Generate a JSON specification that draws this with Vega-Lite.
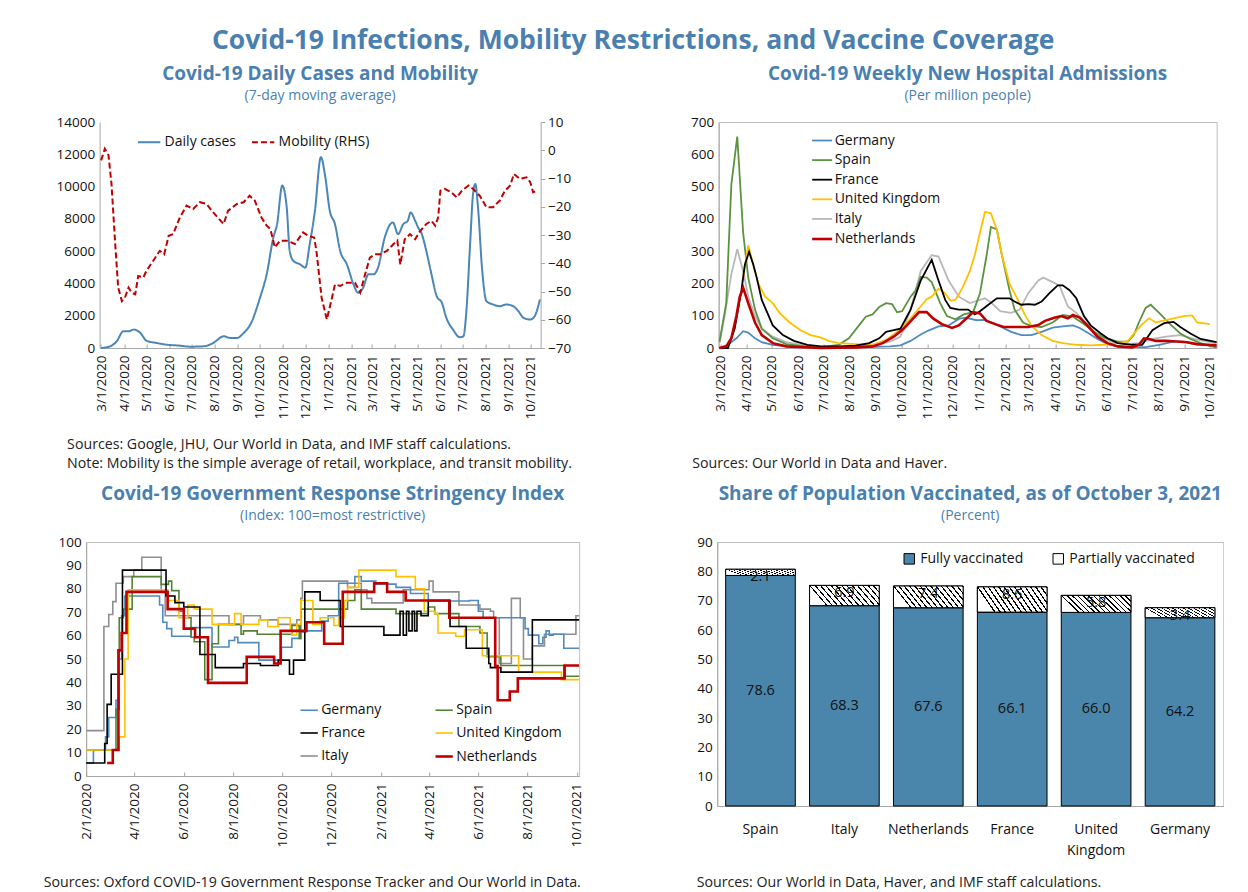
{
"$schema": "https://vega.github.io/schema/vega-lite/v6.json",
"background": "white",
"padding": {"left": 42, "top": 27, "right": 0, "bottom": 0},
"title": {"text": "Covid-19 Infections, Mobility Restrictions, and Vaccine Coverage", "fontSize": 26.5, "offset": 10, "anchor": "middle"},
"config": {
  "font": "Open Sans",
  "view": {"stroke": "#bfbfbf", "strokeWidth": 1},
  "axis": {"labelFont": "Open Sans", "labelFontSize": 13.5, "labelColor": "#111111", "domainColor": "#a6a6a6", "tickColor": "#a6a6a6", "grid": false, "titleFont": "Open Sans", "titleFontWeight": "normal", "titleFontSize": 14.2, "titleColor": "#222222", "labelFlush": false, "labelOverlap": false},
  "legend": {"labelFont": "Open Sans", "labelFontSize": 14, "labelColor": "#111111"},
  "title": {"font": "Open Sans", "fontWeight": "bold", "color": "#4a7fb0", "fontSize": 19, "subtitleFont": "Open Sans", "subtitleFontSize": 14, "subtitleColor": "#4a7fb0", "subtitlePadding": 5, "anchor": "middle", "offset": 12.5}
},
"resolve": {"scale": {"color": "independent", "strokeDash": "independent", "strokeWidth": "independent", "opacity": "independent"}, "legend": {"color": "independent", "strokeDash": "independent", "strokeWidth": "independent"}},
"datasets": {
"tl": [
{"series":"Daily cases","date":"2020-03-01","value":0},
{"series":"Daily cases","date":"2020-03-13","value":104},
{"series":"Daily cases","date":"2020-03-22","value":415},
{"series":"Daily cases","date":"2020-03-31","value":1037},
{"series":"Daily cases","date":"2020-04-07","value":1037},
{"series":"Daily cases","date":"2020-04-14","value":1140},
{"series":"Daily cases","date":"2020-04-23","value":933},
{"series":"Daily cases","date":"2020-05-01","value":456},
{"series":"Daily cases","date":"2020-05-15","value":311},
{"series":"Daily cases","date":"2020-05-28","value":207},
{"series":"Daily cases","date":"2020-06-15","value":145},
{"series":"Daily cases","date":"2020-06-29","value":83},
{"series":"Daily cases","date":"2020-07-17","value":104},
{"series":"Daily cases","date":"2020-07-30","value":311},
{"series":"Daily cases","date":"2020-08-13","value":726},
{"series":"Daily cases","date":"2020-08-22","value":622},
{"series":"Daily cases","date":"2020-08-31","value":622},
{"series":"Daily cases","date":"2020-09-09","value":933},
{"series":"Daily cases","date":"2020-09-18","value":1452},
{"series":"Daily cases","date":"2020-10-01","value":3111},
{"series":"Daily cases","date":"2020-10-10","value":4563},
{"series":"Daily cases","date":"2020-10-19","value":6845},
{"series":"Daily cases","date":"2020-10-24","value":7674},
{"series":"Daily cases","date":"2020-10-31","value":10060},
{"series":"Daily cases","date":"2020-11-06","value":8711},
{"series":"Daily cases","date":"2020-11-10","value":6015},
{"series":"Daily cases","date":"2020-11-15","value":5393},
{"series":"Daily cases","date":"2020-11-24","value":5185},
{"series":"Daily cases","date":"2020-12-01","value":4978},
{"series":"Daily cases","date":"2020-12-07","value":6430},
{"series":"Daily cases","date":"2020-12-14","value":8504},
{"series":"Daily cases","date":"2020-12-22","value":11822},
{"series":"Daily cases","date":"2020-12-28","value":10578},
{"series":"Daily cases","date":"2021-01-03","value":8504},
{"series":"Daily cases","date":"2021-01-10","value":7674},
{"series":"Daily cases","date":"2021-01-17","value":6015},
{"series":"Daily cases","date":"2021-01-26","value":5185},
{"series":"Daily cases","date":"2021-02-04","value":3941},
{"series":"Daily cases","date":"2021-02-10","value":3422},
{"series":"Daily cases","date":"2021-02-17","value":3733},
{"series":"Daily cases","date":"2021-02-24","value":4563},
{"series":"Daily cases","date":"2021-03-03","value":4563},
{"series":"Daily cases","date":"2021-03-09","value":4978},
{"series":"Daily cases","date":"2021-03-18","value":6845},
{"series":"Daily cases","date":"2021-03-29","value":7778},
{"series":"Daily cases","date":"2021-04-05","value":7052},
{"series":"Daily cases","date":"2021-04-12","value":7674},
{"series":"Daily cases","date":"2021-04-18","value":7882},
{"series":"Daily cases","date":"2021-04-22","value":8400},
{"series":"Daily cases","date":"2021-04-28","value":7882},
{"series":"Daily cases","date":"2021-05-02","value":7467},
{"series":"Daily cases","date":"2021-05-07","value":7052},
{"series":"Daily cases","date":"2021-05-13","value":6015},
{"series":"Daily cases","date":"2021-05-20","value":4563},
{"series":"Daily cases","date":"2021-05-27","value":3215},
{"series":"Daily cases","date":"2021-06-03","value":2800},
{"series":"Daily cases","date":"2021-06-09","value":1867},
{"series":"Daily cases","date":"2021-06-18","value":1141},
{"series":"Daily cases","date":"2021-06-27","value":667},
{"series":"Daily cases","date":"2021-07-02","value":726},
{"series":"Daily cases","date":"2021-07-06","value":2282},
{"series":"Daily cases","date":"2021-07-11","value":6430},
{"series":"Daily cases","date":"2021-07-15","value":9541},
{"series":"Daily cases","date":"2021-07-18","value":10160},
{"series":"Daily cases","date":"2021-07-22","value":8504},
{"series":"Daily cases","date":"2021-07-27","value":4978},
{"series":"Daily cases","date":"2021-08-02","value":2904},
{"series":"Daily cases","date":"2021-08-11","value":2696},
{"series":"Daily cases","date":"2021-08-20","value":2593},
{"series":"Daily cases","date":"2021-08-29","value":2696},
{"series":"Daily cases","date":"2021-09-07","value":2593},
{"series":"Daily cases","date":"2021-09-14","value":2282},
{"series":"Daily cases","date":"2021-09-21","value":1867},
{"series":"Daily cases","date":"2021-09-30","value":1763},
{"series":"Daily cases","date":"2021-10-06","value":1970},
{"series":"Daily cases","date":"2021-10-13","value":3007},
{"series":"Mobility (RHS)","date":"2020-03-01","value":-3.6},
{"series":"Mobility (RHS)","date":"2020-03-06","value":0.5},
{"series":"Mobility (RHS)","date":"2020-03-11","value":-1.8},
{"series":"Mobility (RHS)","date":"2020-03-15","value":-11.9},
{"series":"Mobility (RHS)","date":"2020-03-20","value":-33.2},
{"series":"Mobility (RHS)","date":"2020-03-24","value":-48.6},
{"series":"Mobility (RHS)","date":"2020-03-29","value":-53.4},
{"series":"Mobility (RHS)","date":"2020-04-02","value":-52.2},
{"series":"Mobility (RHS)","date":"2020-04-07","value":-48.6},
{"series":"Mobility (RHS)","date":"2020-04-11","value":-50.4},
{"series":"Mobility (RHS)","date":"2020-04-16","value":-51},
{"series":"Mobility (RHS)","date":"2020-04-20","value":-44.5},
{"series":"Mobility (RHS)","date":"2020-04-27","value":-45},
{"series":"Mobility (RHS)","date":"2020-05-01","value":-42.7},
{"series":"Mobility (RHS)","date":"2020-05-10","value":-39.2},
{"series":"Mobility (RHS)","date":"2020-05-19","value":-35.6},
{"series":"Mobility (RHS)","date":"2020-05-25","value":-36.8},
{"series":"Mobility (RHS)","date":"2020-05-31","value":-30.3},
{"series":"Mobility (RHS)","date":"2020-06-06","value":-29.7},
{"series":"Mobility (RHS)","date":"2020-06-15","value":-23.8},
{"series":"Mobility (RHS)","date":"2020-06-24","value":-19.6},
{"series":"Mobility (RHS)","date":"2020-07-03","value":-20.8},
{"series":"Mobility (RHS)","date":"2020-07-12","value":-18.4},
{"series":"Mobility (RHS)","date":"2020-07-21","value":-19},
{"series":"Mobility (RHS)","date":"2020-07-30","value":-22},
{"series":"Mobility (RHS)","date":"2020-08-13","value":-26.1},
{"series":"Mobility (RHS)","date":"2020-08-19","value":-21.4},
{"series":"Mobility (RHS)","date":"2020-08-31","value":-19},
{"series":"Mobility (RHS)","date":"2020-09-09","value":-18.4},
{"series":"Mobility (RHS)","date":"2020-09-17","value":-16.1},
{"series":"Mobility (RHS)","date":"2020-09-24","value":-17.8},
{"series":"Mobility (RHS)","date":"2020-10-03","value":-23.8},
{"series":"Mobility (RHS)","date":"2020-10-10","value":-26.7},
{"series":"Mobility (RHS)","date":"2020-10-15","value":-27.9},
{"series":"Mobility (RHS)","date":"2020-10-21","value":-34.4},
{"series":"Mobility (RHS)","date":"2020-10-28","value":-32},
{"series":"Mobility (RHS)","date":"2020-11-06","value":-32},
{"series":"Mobility (RHS)","date":"2020-11-17","value":-33.2},
{"series":"Mobility (RHS)","date":"2020-11-28","value":-29.1},
{"series":"Mobility (RHS)","date":"2020-12-05","value":-30.3},
{"series":"Mobility (RHS)","date":"2020-12-13","value":-30.9},
{"series":"Mobility (RHS)","date":"2020-12-16","value":-35.6},
{"series":"Mobility (RHS)","date":"2020-12-23","value":-52.2},
{"series":"Mobility (RHS)","date":"2020-12-30","value":-59.9},
{"series":"Mobility (RHS)","date":"2021-01-06","value":-52.2},
{"series":"Mobility (RHS)","date":"2021-01-10","value":-47.5},
{"series":"Mobility (RHS)","date":"2021-01-17","value":-48},
{"series":"Mobility (RHS)","date":"2021-01-26","value":-46.9},
{"series":"Mobility (RHS)","date":"2021-02-06","value":-46.9},
{"series":"Mobility (RHS)","date":"2021-02-13","value":-50.4},
{"series":"Mobility (RHS)","date":"2021-02-19","value":-44.5},
{"series":"Mobility (RHS)","date":"2021-02-26","value":-38},
{"series":"Mobility (RHS)","date":"2021-03-05","value":-36.8},
{"series":"Mobility (RHS)","date":"2021-03-12","value":-36.8},
{"series":"Mobility (RHS)","date":"2021-03-21","value":-35.6},
{"series":"Mobility (RHS)","date":"2021-03-30","value":-33.2},
{"series":"Mobility (RHS)","date":"2021-04-04","value":-32},
{"series":"Mobility (RHS)","date":"2021-04-08","value":-40.4},
{"series":"Mobility (RHS)","date":"2021-04-14","value":-31.5},
{"series":"Mobility (RHS)","date":"2021-04-21","value":-29.7},
{"series":"Mobility (RHS)","date":"2021-04-28","value":-31.5},
{"series":"Mobility (RHS)","date":"2021-05-05","value":-28.5},
{"series":"Mobility (RHS)","date":"2021-05-13","value":-26.1},
{"series":"Mobility (RHS)","date":"2021-05-20","value":-25},
{"series":"Mobility (RHS)","date":"2021-05-25","value":-26.7},
{"series":"Mobility (RHS)","date":"2021-05-29","value":-23.8},
{"series":"Mobility (RHS)","date":"2021-06-01","value":-14.3},
{"series":"Mobility (RHS)","date":"2021-06-07","value":-13.7},
{"series":"Mobility (RHS)","date":"2021-06-16","value":-14.9},
{"series":"Mobility (RHS)","date":"2021-06-23","value":-16.7},
{"series":"Mobility (RHS)","date":"2021-06-30","value":-14.3},
{"series":"Mobility (RHS)","date":"2021-07-09","value":-12.5},
{"series":"Mobility (RHS)","date":"2021-07-15","value":-13.7},
{"series":"Mobility (RHS)","date":"2021-07-24","value":-16.1},
{"series":"Mobility (RHS)","date":"2021-08-02","value":-20.2},
{"series":"Mobility (RHS)","date":"2021-08-11","value":-20.2},
{"series":"Mobility (RHS)","date":"2021-08-20","value":-17.8},
{"series":"Mobility (RHS)","date":"2021-08-27","value":-14.3},
{"series":"Mobility (RHS)","date":"2021-09-03","value":-12.5},
{"series":"Mobility (RHS)","date":"2021-09-08","value":-8.4},
{"series":"Mobility (RHS)","date":"2021-09-16","value":-10.1},
{"series":"Mobility (RHS)","date":"2021-09-25","value":-9.6},
{"series":"Mobility (RHS)","date":"2021-09-30","value":-11.3},
{"series":"Mobility (RHS)","date":"2021-10-04","value":-14.9},
{"series":"Mobility (RHS)","date":"2021-10-09","value":-14.3}
],
"hosp": [
{"country":"Italy","date":"2020-02-29","value":15},
{"country":"Italy","date":"2020-03-06","value":99},
{"country":"Italy","date":"2020-03-14","value":228},
{"country":"Italy","date":"2020-03-21","value":306},
{"country":"Italy","date":"2020-03-28","value":238},
{"country":"Italy","date":"2020-04-03","value":159},
{"country":"Italy","date":"2020-04-11","value":99},
{"country":"Italy","date":"2020-04-19","value":60},
{"country":"Italy","date":"2020-05-02","value":35},
{"country":"Italy","date":"2020-05-18","value":18},
{"country":"Italy","date":"2020-06-08","value":8},
{"country":"Italy","date":"2020-06-28","value":3},
{"country":"Italy","date":"2020-08-08","value":3},
{"country":"Italy","date":"2020-09-01","value":12},
{"country":"Italy","date":"2020-09-18","value":20},
{"country":"Italy","date":"2020-09-30","value":35},
{"country":"Italy","date":"2020-10-12","value":119},
{"country":"Italy","date":"2020-10-24","value":238},
{"country":"Italy","date":"2020-11-06","value":288},
{"country":"Italy","date":"2020-11-14","value":283},
{"country":"Italy","date":"2020-11-26","value":209},
{"country":"Italy","date":"2020-12-08","value":159},
{"country":"Italy","date":"2020-12-21","value":139},
{"country":"Italy","date":"2021-01-02","value":149},
{"country":"Italy","date":"2021-01-08","value":154},
{"country":"Italy","date":"2021-01-16","value":139},
{"country":"Italy","date":"2021-01-26","value":114},
{"country":"Italy","date":"2021-02-08","value":109},
{"country":"Italy","date":"2021-02-18","value":119},
{"country":"Italy","date":"2021-02-28","value":169},
{"country":"Italy","date":"2021-03-12","value":209},
{"country":"Italy","date":"2021-03-18","value":218},
{"country":"Italy","date":"2021-03-29","value":204},
{"country":"Italy","date":"2021-04-06","value":194},
{"country":"Italy","date":"2021-04-16","value":129},
{"country":"Italy","date":"2021-04-26","value":109},
{"country":"Italy","date":"2021-05-09","value":74},
{"country":"Italy","date":"2021-05-21","value":40},
{"country":"Italy","date":"2021-06-06","value":20},
{"country":"Italy","date":"2021-06-22","value":12},
{"country":"Italy","date":"2021-07-09","value":15},
{"country":"Italy","date":"2021-07-25","value":28},
{"country":"Italy","date":"2021-08-10","value":35},
{"country":"Italy","date":"2021-08-27","value":40},
{"country":"Italy","date":"2021-09-12","value":28},
{"country":"Italy","date":"2021-09-28","value":20},
{"country":"Italy","date":"2021-10-09","value":15},
{"country":"Germany","date":"2020-02-29","value":0},
{"country":"Germany","date":"2020-03-10","value":10},
{"country":"Germany","date":"2020-03-20","value":30},
{"country":"Germany","date":"2020-03-28","value":52},
{"country":"Germany","date":"2020-04-03","value":48},
{"country":"Germany","date":"2020-04-11","value":30},
{"country":"Germany","date":"2020-04-19","value":18},
{"country":"Germany","date":"2020-05-02","value":10},
{"country":"Germany","date":"2020-05-18","value":5},
{"country":"Germany","date":"2020-06-28","value":2},
{"country":"Germany","date":"2020-08-08","value":2},
{"country":"Germany","date":"2020-09-18","value":5},
{"country":"Germany","date":"2020-09-30","value":8},
{"country":"Germany","date":"2020-10-12","value":22},
{"country":"Germany","date":"2020-10-24","value":42},
{"country":"Germany","date":"2020-11-02","value":54},
{"country":"Germany","date":"2020-11-14","value":67},
{"country":"Germany","date":"2020-11-26","value":70},
{"country":"Germany","date":"2020-12-08","value":90},
{"country":"Germany","date":"2020-12-16","value":94},
{"country":"Germany","date":"2020-12-29","value":86},
{"country":"Germany","date":"2021-01-06","value":87},
{"country":"Germany","date":"2021-01-16","value":79},
{"country":"Germany","date":"2021-01-26","value":67},
{"country":"Germany","date":"2021-02-08","value":50},
{"country":"Germany","date":"2021-02-20","value":40},
{"country":"Germany","date":"2021-03-04","value":40},
{"country":"Germany","date":"2021-03-16","value":50},
{"country":"Germany","date":"2021-03-29","value":63},
{"country":"Germany","date":"2021-04-10","value":67},
{"country":"Germany","date":"2021-04-22","value":70},
{"country":"Germany","date":"2021-04-30","value":62},
{"country":"Germany","date":"2021-05-11","value":45},
{"country":"Germany","date":"2021-05-21","value":28},
{"country":"Germany","date":"2021-06-02","value":12},
{"country":"Germany","date":"2021-06-14","value":5},
{"country":"Germany","date":"2021-07-01","value":3},
{"country":"Germany","date":"2021-07-17","value":3},
{"country":"Germany","date":"2021-08-02","value":10},
{"country":"Germany","date":"2021-08-19","value":20},
{"country":"Germany","date":"2021-08-31","value":20},
{"country":"Germany","date":"2021-09-12","value":12},
{"country":"Germany","date":"2021-09-28","value":8},
{"country":"Germany","date":"2021-10-09","value":5},
{"country":"Spain","date":"2020-02-29","value":20},
{"country":"Spain","date":"2020-03-08","value":139},
{"country":"Spain","date":"2020-03-14","value":506},
{"country":"Spain","date":"2020-03-21","value":655},
{"country":"Spain","date":"2020-03-28","value":357},
{"country":"Spain","date":"2020-04-03","value":218},
{"country":"Spain","date":"2020-04-11","value":119},
{"country":"Spain","date":"2020-04-19","value":60},
{"country":"Spain","date":"2020-05-02","value":30},
{"country":"Spain","date":"2020-05-18","value":12},
{"country":"Spain","date":"2020-06-08","value":5},
{"country":"Spain","date":"2020-06-28","value":3},
{"country":"Spain","date":"2020-07-19","value":10},
{"country":"Spain","date":"2020-07-31","value":30},
{"country":"Spain","date":"2020-08-12","value":70},
{"country":"Spain","date":"2020-08-20","value":97},
{"country":"Spain","date":"2020-08-28","value":104},
{"country":"Spain","date":"2020-09-05","value":127},
{"country":"Spain","date":"2020-09-13","value":139},
{"country":"Spain","date":"2020-09-20","value":136},
{"country":"Spain","date":"2020-09-26","value":111},
{"country":"Spain","date":"2020-10-02","value":114},
{"country":"Spain","date":"2020-10-12","value":159},
{"country":"Spain","date":"2020-10-18","value":179},
{"country":"Spain","date":"2020-10-24","value":220},
{"country":"Spain","date":"2020-10-31","value":218},
{"country":"Spain","date":"2020-11-06","value":204},
{"country":"Spain","date":"2020-11-16","value":139},
{"country":"Spain","date":"2020-11-24","value":99},
{"country":"Spain","date":"2020-12-04","value":89},
{"country":"Spain","date":"2020-12-14","value":104},
{"country":"Spain","date":"2020-12-25","value":111},
{"country":"Spain","date":"2021-01-02","value":169},
{"country":"Spain","date":"2021-01-10","value":288},
{"country":"Spain","date":"2021-01-15","value":375},
{"country":"Spain","date":"2021-01-22","value":367},
{"country":"Spain","date":"2021-01-28","value":288},
{"country":"Spain","date":"2021-02-06","value":179},
{"country":"Spain","date":"2021-02-12","value":119},
{"country":"Spain","date":"2021-02-22","value":79},
{"country":"Spain","date":"2021-03-04","value":68},
{"country":"Spain","date":"2021-03-16","value":65},
{"country":"Spain","date":"2021-03-29","value":79},
{"country":"Spain","date":"2021-04-10","value":102},
{"country":"Spain","date":"2021-04-22","value":97},
{"country":"Spain","date":"2021-05-05","value":74},
{"country":"Spain","date":"2021-05-17","value":50},
{"country":"Spain","date":"2021-05-29","value":32},
{"country":"Spain","date":"2021-06-14","value":20},
{"country":"Spain","date":"2021-06-26","value":20},
{"country":"Spain","date":"2021-07-03","value":40},
{"country":"Spain","date":"2021-07-09","value":79},
{"country":"Spain","date":"2021-07-17","value":124},
{"country":"Spain","date":"2021-07-23","value":134},
{"country":"Spain","date":"2021-08-02","value":109},
{"country":"Spain","date":"2021-08-15","value":74},
{"country":"Spain","date":"2021-08-27","value":45},
{"country":"Spain","date":"2021-09-08","value":28},
{"country":"Spain","date":"2021-09-20","value":15},
{"country":"Spain","date":"2021-10-03","value":5},
{"country":"Spain","date":"2021-10-09","value":2},
{"country":"United Kingdom","date":"2020-03-27","value":204},
{"country":"United Kingdom","date":"2020-04-03","value":318},
{"country":"United Kingdom","date":"2020-04-09","value":258},
{"country":"United Kingdom","date":"2020-04-15","value":199},
{"country":"United Kingdom","date":"2020-04-23","value":159},
{"country":"United Kingdom","date":"2020-05-02","value":139},
{"country":"United Kingdom","date":"2020-05-10","value":109},
{"country":"United Kingdom","date":"2020-05-22","value":79},
{"country":"United Kingdom","date":"2020-06-04","value":55},
{"country":"United Kingdom","date":"2020-06-16","value":40},
{"country":"United Kingdom","date":"2020-06-28","value":32},
{"country":"United Kingdom","date":"2020-07-07","value":22},
{"country":"United Kingdom","date":"2020-07-19","value":15},
{"country":"United Kingdom","date":"2020-08-08","value":12},
{"country":"United Kingdom","date":"2020-08-28","value":10},
{"country":"United Kingdom","date":"2020-09-13","value":25},
{"country":"United Kingdom","date":"2020-09-26","value":50},
{"country":"United Kingdom","date":"2020-10-08","value":79},
{"country":"United Kingdom","date":"2020-10-20","value":117},
{"country":"United Kingdom","date":"2020-10-31","value":151},
{"country":"United Kingdom","date":"2020-11-06","value":159},
{"country":"United Kingdom","date":"2020-11-14","value":184},
{"country":"United Kingdom","date":"2020-11-22","value":169},
{"country":"United Kingdom","date":"2020-11-28","value":147},
{"country":"United Kingdom","date":"2020-12-04","value":149},
{"country":"United Kingdom","date":"2020-12-12","value":184},
{"country":"United Kingdom","date":"2020-12-21","value":238},
{"country":"United Kingdom","date":"2020-12-27","value":288},
{"country":"United Kingdom","date":"2021-01-02","value":357},
{"country":"United Kingdom","date":"2021-01-08","value":422},
{"country":"United Kingdom","date":"2021-01-15","value":417},
{"country":"United Kingdom","date":"2021-01-22","value":367},
{"country":"United Kingdom","date":"2021-01-28","value":288},
{"country":"United Kingdom","date":"2021-02-06","value":199},
{"country":"United Kingdom","date":"2021-02-14","value":159},
{"country":"United Kingdom","date":"2021-02-24","value":104},
{"country":"United Kingdom","date":"2021-03-04","value":68},
{"country":"United Kingdom","date":"2021-03-16","value":40},
{"country":"United Kingdom","date":"2021-03-29","value":22},
{"country":"United Kingdom","date":"2021-04-10","value":15},
{"country":"United Kingdom","date":"2021-04-26","value":10},
{"country":"United Kingdom","date":"2021-05-13","value":8},
{"country":"United Kingdom","date":"2021-05-29","value":10},
{"country":"United Kingdom","date":"2021-06-14","value":15},
{"country":"United Kingdom","date":"2021-06-26","value":22},
{"country":"United Kingdom","date":"2021-07-05","value":50},
{"country":"United Kingdom","date":"2021-07-13","value":74},
{"country":"United Kingdom","date":"2021-07-21","value":92},
{"country":"United Kingdom","date":"2021-07-29","value":79},
{"country":"United Kingdom","date":"2021-08-06","value":84},
{"country":"United Kingdom","date":"2021-08-19","value":92},
{"country":"United Kingdom","date":"2021-08-31","value":99},
{"country":"United Kingdom","date":"2021-09-10","value":101},
{"country":"United Kingdom","date":"2021-09-16","value":79},
{"country":"United Kingdom","date":"2021-10-01","value":74},
{"country":"France","date":"2020-02-29","value":0},
{"country":"France","date":"2020-03-10","value":0},
{"country":"France","date":"2020-03-18","value":60},
{"country":"France","date":"2020-03-26","value":179},
{"country":"France","date":"2020-03-30","value":258},
{"country":"France","date":"2020-04-04","value":298},
{"country":"France","date":"2020-04-09","value":258},
{"country":"France","date":"2020-04-13","value":218},
{"country":"France","date":"2020-04-19","value":149},
{"country":"France","date":"2020-05-02","value":70},
{"country":"France","date":"2020-05-14","value":40},
{"country":"France","date":"2020-05-27","value":22},
{"country":"France","date":"2020-06-12","value":10},
{"country":"France","date":"2020-06-28","value":5},
{"country":"France","date":"2020-07-19","value":5},
{"country":"France","date":"2020-08-08","value":7},
{"country":"France","date":"2020-08-24","value":15},
{"country":"France","date":"2020-09-05","value":30},
{"country":"France","date":"2020-09-13","value":50},
{"country":"France","date":"2020-09-22","value":55},
{"country":"France","date":"2020-09-30","value":60},
{"country":"France","date":"2020-10-12","value":119},
{"country":"France","date":"2020-10-24","value":209},
{"country":"France","date":"2020-11-06","value":273},
{"country":"France","date":"2020-11-14","value":209},
{"country":"France","date":"2020-11-22","value":149},
{"country":"France","date":"2020-11-28","value":124},
{"country":"France","date":"2020-12-08","value":119},
{"country":"France","date":"2020-12-19","value":119},
{"country":"France","date":"2020-12-27","value":104},
{"country":"France","date":"2021-01-02","value":114},
{"country":"France","date":"2021-01-12","value":134},
{"country":"France","date":"2021-01-22","value":154},
{"country":"France","date":"2021-01-28","value":154},
{"country":"France","date":"2021-02-06","value":154},
{"country":"France","date":"2021-02-12","value":144},
{"country":"France","date":"2021-02-20","value":134},
{"country":"France","date":"2021-02-28","value":136},
{"country":"France","date":"2021-03-08","value":134},
{"country":"France","date":"2021-03-16","value":144},
{"country":"France","date":"2021-03-25","value":169},
{"country":"France","date":"2021-04-04","value":194},
{"country":"France","date":"2021-04-10","value":194},
{"country":"France","date":"2021-04-18","value":179},
{"country":"France","date":"2021-04-26","value":154},
{"country":"France","date":"2021-05-05","value":99},
{"country":"France","date":"2021-05-13","value":70},
{"country":"France","date":"2021-05-25","value":45},
{"country":"France","date":"2021-06-02","value":30},
{"country":"France","date":"2021-06-14","value":15},
{"country":"France","date":"2021-07-01","value":10},
{"country":"France","date":"2021-07-13","value":10},
{"country":"France","date":"2021-07-25","value":55},
{"country":"France","date":"2021-08-02","value":68},
{"country":"France","date":"2021-08-08","value":77},
{"country":"France","date":"2021-08-19","value":81},
{"country":"France","date":"2021-08-27","value":65},
{"country":"France","date":"2021-09-08","value":45},
{"country":"France","date":"2021-09-20","value":28},
{"country":"France","date":"2021-10-09","value":18},
{"country":"Netherlands","date":"2020-02-29","value":0},
{"country":"Netherlands","date":"2020-03-08","value":5},
{"country":"Netherlands","date":"2020-03-14","value":30},
{"country":"Netherlands","date":"2020-03-20","value":99},
{"country":"Netherlands","date":"2020-03-24","value":159},
{"country":"Netherlands","date":"2020-03-28","value":186},
{"country":"Netherlands","date":"2020-04-03","value":139},
{"country":"Netherlands","date":"2020-04-11","value":79},
{"country":"Netherlands","date":"2020-04-19","value":40},
{"country":"Netherlands","date":"2020-05-02","value":15},
{"country":"Netherlands","date":"2020-05-18","value":5},
{"country":"Netherlands","date":"2020-06-28","value":0},
{"country":"Netherlands","date":"2020-08-08","value":2},
{"country":"Netherlands","date":"2020-08-28","value":5},
{"country":"Netherlands","date":"2020-09-09","value":15},
{"country":"Netherlands","date":"2020-09-22","value":35},
{"country":"Netherlands","date":"2020-10-04","value":60},
{"country":"Netherlands","date":"2020-10-14","value":89},
{"country":"Netherlands","date":"2020-10-22","value":111},
{"country":"Netherlands","date":"2020-10-31","value":111},
{"country":"Netherlands","date":"2020-11-08","value":91},
{"country":"Netherlands","date":"2020-11-18","value":74},
{"country":"Netherlands","date":"2020-11-30","value":62},
{"country":"Netherlands","date":"2020-12-08","value":70},
{"country":"Netherlands","date":"2020-12-16","value":89},
{"country":"Netherlands","date":"2020-12-25","value":111},
{"country":"Netherlands","date":"2021-01-02","value":107},
{"country":"Netherlands","date":"2021-01-10","value":84},
{"country":"Netherlands","date":"2021-01-20","value":74},
{"country":"Netherlands","date":"2021-01-30","value":65},
{"country":"Netherlands","date":"2021-02-12","value":65},
{"country":"Netherlands","date":"2021-02-28","value":65},
{"country":"Netherlands","date":"2021-03-12","value":71},
{"country":"Netherlands","date":"2021-03-20","value":84},
{"country":"Netherlands","date":"2021-03-31","value":94},
{"country":"Netherlands","date":"2021-04-08","value":99},
{"country":"Netherlands","date":"2021-04-16","value":92},
{"country":"Netherlands","date":"2021-04-22","value":102},
{"country":"Netherlands","date":"2021-04-30","value":94},
{"country":"Netherlands","date":"2021-05-09","value":70},
{"country":"Netherlands","date":"2021-05-21","value":35},
{"country":"Netherlands","date":"2021-06-02","value":15},
{"country":"Netherlands","date":"2021-06-14","value":5},
{"country":"Netherlands","date":"2021-07-01","value":2},
{"country":"Netherlands","date":"2021-07-09","value":10},
{"country":"Netherlands","date":"2021-07-15","value":30},
{"country":"Netherlands","date":"2021-07-21","value":28},
{"country":"Netherlands","date":"2021-07-29","value":22},
{"country":"Netherlands","date":"2021-08-10","value":22},
{"country":"Netherlands","date":"2021-08-23","value":20},
{"country":"Netherlands","date":"2021-09-04","value":18},
{"country":"Netherlands","date":"2021-09-16","value":12},
{"country":"Netherlands","date":"2021-09-28","value":10},
{"country":"Netherlands","date":"2021-10-09","value":8}
],
"strin": [
{"country":"Italy","date":"2020-02-01","value":19.4},
{"country":"Italy","date":"2020-02-23","value":63.9},
{"country":"Italy","date":"2020-02-29","value":69},
{"country":"Italy","date":"2020-03-05","value":74.5},
{"country":"Italy","date":"2020-03-09","value":82.4},
{"country":"Italy","date":"2020-03-18","value":85.2},
{"country":"Italy","date":"2020-03-31","value":88},
{"country":"Italy","date":"2020-04-10","value":93.5},
{"country":"Italy","date":"2020-05-04","value":78.7},
{"country":"Italy","date":"2020-05-09","value":68.5},
{"country":"Italy","date":"2020-07-27","value":64.8},
{"country":"Italy","date":"2020-08-14","value":68.5},
{"country":"Italy","date":"2020-09-04","value":66.7},
{"country":"Italy","date":"2020-09-26","value":64.8},
{"country":"Italy","date":"2020-10-19","value":66.7},
{"country":"Italy","date":"2020-10-24","value":75.9},
{"country":"Italy","date":"2020-10-26","value":83.3},
{"country":"Italy","date":"2020-12-21","value":80.6},
{"country":"Italy","date":"2020-12-30","value":82.4},
{"country":"Italy","date":"2021-01-07","value":79.6},
{"country":"Italy","date":"2021-01-14","value":75.9},
{"country":"Italy","date":"2021-01-20","value":74},
{"country":"Italy","date":"2021-02-28","value":79.6},
{"country":"Italy","date":"2021-04-01","value":83.3},
{"country":"Italy","date":"2021-04-06","value":78.7},
{"country":"Italy","date":"2021-05-08","value":73.1},
{"country":"Italy","date":"2021-06-03","value":71.3},
{"country":"Italy","date":"2021-06-16","value":70.4},
{"country":"Italy","date":"2021-06-20","value":67.6},
{"country":"Italy","date":"2021-06-27","value":48.1},
{"country":"Italy","date":"2021-07-12","value":75.9},
{"country":"Italy","date":"2021-07-23","value":67.6},
{"country":"Italy","date":"2021-07-27","value":50},
{"country":"Italy","date":"2021-08-07","value":55.6},
{"country":"Italy","date":"2021-08-22","value":60.6},
{"country":"Italy","date":"2021-09-30","value":68.5},
{"country":"Italy","date":"2021-10-04","value":68.5},
{"country":"Germany","date":"2020-02-01","value":5.6},
{"country":"Germany","date":"2020-02-10","value":11.1},
{"country":"Germany","date":"2020-02-25","value":16.7},
{"country":"Germany","date":"2020-02-29","value":25},
{"country":"Germany","date":"2020-03-09","value":32.4},
{"country":"Germany","date":"2020-03-13","value":50},
{"country":"Germany","date":"2020-03-16","value":68.5},
{"country":"Germany","date":"2020-03-20","value":76.9},
{"country":"Germany","date":"2020-05-02","value":73.1},
{"country":"Germany","date":"2020-05-06","value":65.7},
{"country":"Germany","date":"2020-05-11","value":63},
{"country":"Germany","date":"2020-05-17","value":59.7},
{"country":"Germany","date":"2020-06-10","value":63.4},
{"country":"Germany","date":"2020-07-06","value":55.1},
{"country":"Germany","date":"2020-07-27","value":57.9},
{"country":"Germany","date":"2020-08-03","value":59.3},
{"country":"Germany","date":"2020-08-07","value":57},
{"country":"Germany","date":"2020-09-02","value":49.5},
{"country":"Germany","date":"2020-09-30","value":55},
{"country":"Germany","date":"2020-10-13","value":58.8},
{"country":"Germany","date":"2020-10-24","value":61.6},
{"country":"Germany","date":"2020-10-30","value":62},
{"country":"Germany","date":"2020-11-19","value":66.2},
{"country":"Germany","date":"2020-11-27","value":68.5},
{"country":"Germany","date":"2020-12-10","value":82.4},
{"country":"Germany","date":"2020-12-30","value":85.2},
{"country":"Germany","date":"2021-01-07","value":83.3},
{"country":"Germany","date":"2021-01-25","value":82},
{"country":"Germany","date":"2021-02-19","value":80.6},
{"country":"Germany","date":"2021-03-09","value":78},
{"country":"Germany","date":"2021-03-31","value":74.8},
{"country":"Germany","date":"2021-05-21","value":75},
{"country":"Germany","date":"2021-06-01","value":70.4},
{"country":"Germany","date":"2021-06-07","value":67.6},
{"country":"Germany","date":"2021-07-29","value":63},
{"country":"Germany","date":"2021-08-02","value":60.2},
{"country":"Germany","date":"2021-08-15","value":56.5},
{"country":"Germany","date":"2021-08-20","value":59.3},
{"country":"Germany","date":"2021-08-24","value":62},
{"country":"Germany","date":"2021-08-28","value":60.2},
{"country":"Germany","date":"2021-09-02","value":60.6},
{"country":"Germany","date":"2021-09-15","value":54.6},
{"country":"Germany","date":"2021-10-04","value":54.6},
{"country":"Spain","date":"2020-02-01","value":11.1},
{"country":"Spain","date":"2020-03-09","value":28.5},
{"country":"Spain","date":"2020-03-13","value":67.6},
{"country":"Spain","date":"2020-03-18","value":71.3},
{"country":"Spain","date":"2020-03-29","value":85.2},
{"country":"Spain","date":"2020-05-04","value":81.9},
{"country":"Spain","date":"2020-05-13","value":83.3},
{"country":"Spain","date":"2020-05-17","value":79.2},
{"country":"Spain","date":"2020-05-26","value":70.4},
{"country":"Spain","date":"2020-06-01","value":67.6},
{"country":"Spain","date":"2020-06-10","value":59.3},
{"country":"Spain","date":"2020-06-14","value":57.4},
{"country":"Spain","date":"2020-06-27","value":41.2},
{"country":"Spain","date":"2020-07-06","value":56.5},
{"country":"Spain","date":"2020-07-14","value":64.8},
{"country":"Spain","date":"2020-08-11","value":60.6},
{"country":"Spain","date":"2020-08-14","value":62},
{"country":"Spain","date":"2020-08-31","value":60.6},
{"country":"Spain","date":"2020-10-13","value":64.3},
{"country":"Spain","date":"2020-10-22","value":58.8},
{"country":"Spain","date":"2020-10-24","value":71.3},
{"country":"Spain","date":"2020-12-21","value":75},
{"country":"Spain","date":"2020-12-30","value":79.6},
{"country":"Spain","date":"2021-01-07","value":71.3},
{"country":"Spain","date":"2021-02-19","value":69.4},
{"country":"Spain","date":"2021-03-31","value":72.2},
{"country":"Spain","date":"2021-04-08","value":69.4},
{"country":"Spain","date":"2021-05-08","value":63.9},
{"country":"Spain","date":"2021-06-03","value":61.1},
{"country":"Spain","date":"2021-06-12","value":51},
{"country":"Spain","date":"2021-06-29","value":47.2},
{"country":"Spain","date":"2021-09-15","value":42.6},
{"country":"Spain","date":"2021-10-04","value":42.6},
{"country":"United Kingdom","date":"2020-02-01","value":11.1},
{"country":"United Kingdom","date":"2020-03-13","value":16.7},
{"country":"United Kingdom","date":"2020-03-20","value":50},
{"country":"United Kingdom","date":"2020-03-24","value":79.6},
{"country":"United Kingdom","date":"2020-05-12","value":75},
{"country":"United Kingdom","date":"2020-05-26","value":67.6},
{"country":"United Kingdom","date":"2020-06-06","value":73.1},
{"country":"United Kingdom","date":"2020-06-14","value":71.3},
{"country":"United Kingdom","date":"2020-07-06","value":64.8},
{"country":"United Kingdom","date":"2020-08-03","value":69.4},
{"country":"United Kingdom","date":"2020-08-11","value":64.8},
{"country":"United Kingdom","date":"2020-09-02","value":66.7},
{"country":"United Kingdom","date":"2020-09-13","value":63.9},
{"country":"United Kingdom","date":"2020-09-26","value":67.6},
{"country":"United Kingdom","date":"2020-10-11","value":62},
{"country":"United Kingdom","date":"2020-10-13","value":60.2},
{"country":"United Kingdom","date":"2020-10-19","value":64.8},
{"country":"United Kingdom","date":"2020-10-24","value":75},
{"country":"United Kingdom","date":"2020-11-08","value":64.8},
{"country":"United Kingdom","date":"2020-11-17","value":67.6},
{"country":"United Kingdom","date":"2020-12-04","value":64.3},
{"country":"United Kingdom","date":"2020-12-10","value":67.6},
{"country":"United Kingdom","date":"2020-12-17","value":75},
{"country":"United Kingdom","date":"2020-12-21","value":80.6},
{"country":"United Kingdom","date":"2021-01-04","value":88},
{"country":"United Kingdom","date":"2021-02-19","value":85.2},
{"country":"United Kingdom","date":"2021-03-15","value":80},
{"country":"United Kingdom","date":"2021-03-26","value":70.4},
{"country":"United Kingdom","date":"2021-04-08","value":69.4},
{"country":"United Kingdom","date":"2021-04-12","value":61.1},
{"country":"United Kingdom","date":"2021-05-04","value":59.7},
{"country":"United Kingdom","date":"2021-05-15","value":62.5},
{"country":"United Kingdom","date":"2021-06-06","value":51.4},
{"country":"United Kingdom","date":"2021-07-21","value":44.4},
{"country":"United Kingdom","date":"2021-09-12","value":41.2},
{"country":"United Kingdom","date":"2021-10-04","value":41.2},
{"country":"France","date":"2020-02-01","value":5.56},
{"country":"France","date":"2020-02-24","value":13.9},
{"country":"France","date":"2020-02-27","value":30.6},
{"country":"France","date":"2020-03-03","value":43.5},
{"country":"France","date":"2020-03-17","value":88},
{"country":"France","date":"2020-05-10","value":76.9},
{"country":"France","date":"2020-05-21","value":74.1},
{"country":"France","date":"2020-06-01","value":72.2},
{"country":"France","date":"2020-06-21","value":51.9},
{"country":"France","date":"2020-07-10","value":46.3},
{"country":"France","date":"2020-08-14","value":48.1},
{"country":"France","date":"2020-09-04","value":47.2},
{"country":"France","date":"2020-09-26","value":49.5},
{"country":"France","date":"2020-10-10","value":43.5},
{"country":"France","date":"2020-10-15","value":49.5},
{"country":"France","date":"2020-10-29","value":78.7},
{"country":"France","date":"2020-11-17","value":75},
{"country":"France","date":"2020-12-12","value":63.9},
{"country":"France","date":"2021-02-04","value":60.2},
{"country":"France","date":"2021-02-24","value":70.4},
{"country":"France","date":"2021-02-28","value":60.2},
{"country":"France","date":"2021-03-04","value":70.4},
{"country":"France","date":"2021-03-07","value":62},
{"country":"France","date":"2021-03-11","value":70.4},
{"country":"France","date":"2021-03-14","value":62},
{"country":"France","date":"2021-03-17","value":70.4},
{"country":"France","date":"2021-03-22","value":68.5},
{"country":"France","date":"2021-03-31","value":75},
{"country":"France","date":"2021-04-27","value":63.9},
{"country":"France","date":"2021-05-17","value":54.6},
{"country":"France","date":"2021-06-14","value":48.1},
{"country":"France","date":"2021-06-16","value":46.3},
{"country":"France","date":"2021-06-29","value":44.4},
{"country":"France","date":"2021-08-07","value":66.7},
{"country":"France","date":"2021-10-04","value":66.7},
{"country":"Netherlands","date":"2020-02-27","value":5.56},
{"country":"Netherlands","date":"2020-03-05","value":11.1},
{"country":"Netherlands","date":"2020-03-12","value":53.7},
{"country":"Netherlands","date":"2020-03-16","value":61.1},
{"country":"Netherlands","date":"2020-03-22","value":78.7},
{"country":"Netherlands","date":"2020-05-12","value":71.3},
{"country":"Netherlands","date":"2020-06-01","value":63},
{"country":"Netherlands","date":"2020-06-15","value":59.3},
{"country":"Netherlands","date":"2020-07-01","value":39.8},
{"country":"Netherlands","date":"2020-08-18","value":50.9},
{"country":"Netherlands","date":"2020-09-21","value":48.1},
{"country":"Netherlands","date":"2020-09-29","value":62},
{"country":"Netherlands","date":"2020-10-31","value":65.7},
{"country":"Netherlands","date":"2020-11-22","value":56.5},
{"country":"Netherlands","date":"2020-12-15","value":78.7},
{"country":"Netherlands","date":"2021-01-23","value":82.4},
{"country":"Netherlands","date":"2021-02-08","value":78.7},
{"country":"Netherlands","date":"2021-03-03","value":75},
{"country":"Netherlands","date":"2021-04-26","value":67.6},
{"country":"Netherlands","date":"2021-06-22","value":47},
{"country":"Netherlands","date":"2021-06-25","value":32.4},
{"country":"Netherlands","date":"2021-07-10","value":36.1},
{"country":"Netherlands","date":"2021-07-20","value":41.7},
{"country":"Netherlands","date":"2021-09-16","value":47.2},
{"country":"Netherlands","date":"2021-10-04","value":47.2}
],
"vacc": [
{"country":"Spain","type":"Fully vaccinated","value":78.6},
{"country":"Spain","type":"Partially vaccinated","value":2.1},
{"country":"Italy","type":"Fully vaccinated","value":68.3},
{"country":"Italy","type":"Partially vaccinated","value":6.9},
{"country":"Netherlands","type":"Fully vaccinated","value":67.6},
{"country":"Netherlands","type":"Partially vaccinated","value":7.4},
{"country":"France","type":"Fully vaccinated","value":66.1},
{"country":"France","type":"Partially vaccinated","value":8.6},
{"country":"United Kingdom","type":"Fully vaccinated","value":66.0},
{"country":"United Kingdom","type":"Partially vaccinated","value":5.8},
{"country":"Germany","type":"Fully vaccinated","value":64.2},
{"country":"Germany","type":"Partially vaccinated","value":3.4}
]
},
"spacing": 104,
"hconcat": [
{
"resolve": {"scale": {"color": "independent", "strokeDash": "independent", "strokeWidth": "independent"}, "legend": {"color": "independent", "strokeDash": "independent", "strokeWidth": "independent"}},
"spacing": 13,
"center": true,
"vconcat": [
{
"title": {"text": "Covid-19 Daily Cases and Mobility", "subtitle": "(7-day moving average)"},
"width": 441, "height": 226,
"view": {"stroke": null},
"data": {"name": "tl"},
"encoding": {
"x": {"field": "date", "type": "temporal",
 "scale": {"type": "utc", "domain": [1582848000000, 1634169600000]},
 "axis": {"values": [1583020800000,1585699200000,1588291200000,1590969600000,1593561600000,1596240000000,1598918400000,1601510400000,1604188800000,1606780800000,1609459200000,1612137600000,1614556800000,1617235200000,1619827200000,1622505600000,1625097600000,1627776000000,1630454400000,1633046400000],
  "labelExpr": "utcFormat(datum.value, '%-m/%-d/%Y')", "labelAngle": 270, "tickSize": -4, "labelPadding": 11,
  "title": ["Sources: Google, JHU, Our World in Data, and IMF staff calculations.", "Note: Mobility is the simple average of retail, workplace, and transit mobility."],
  "titleX": -33, "titleY": 100, "titleAlign": "left", "titleBaseline": "alphabetic", "titleLineHeight": 19}}
},
"layer": [
{
"transform": [{"filter": "datum.series === 'Daily cases'"}],
"mark": {"type": "line", "strokeWidth": 2, "interpolate": "monotone"},
"encoding": {
"y": {"field": "value", "type": "quantitative", "scale": {"domain": [0, 14000], "nice": false},
 "axis": {"values": [0,2000,4000,6000,8000,10000,12000,14000], "format": "d", "title": null, "ticks": false, "labelPadding": 5}},
"color": {"field": "series", "type": "nominal", "scale": {"domain": ["Daily cases", "Mobility (RHS)"], "range": ["#4a86b6", "#c00000"]},
 "legend": {"title": null, "orient": "none", "legendX": 37, "legendY": 7.5, "direction": "horizontal", "symbolType": "stroke", "symbolSize": 500, "symbolStrokeWidth": 2.2, "columnPadding": 10, "labelOffset": 3}},
"strokeDash": {"field": "series", "type": "nominal", "scale": {"domain": ["Daily cases", "Mobility (RHS)"], "range": [[1, 0], [6, 3]]},
 "legend": {"title": null, "orient": "none", "legendX": 37, "legendY": 7.5, "direction": "horizontal", "symbolType": "stroke", "symbolSize": 500, "symbolStrokeWidth": 2.2, "columnPadding": 10, "labelOffset": 3}}
}
},
{
"transform": [{"filter": "datum.series === 'Mobility (RHS)'"}],
"mark": {"type": "line", "strokeWidth": 2},
"encoding": {
"y": {"field": "value", "type": "quantitative", "scale": {"domain": [-70, 10], "nice": false},
 "axis": {"orient": "right", "values": [-70,-60,-50,-40,-30,-20,-10,0,10], "title": null, "tickSize": 4, "labelPadding": 3}},
"color": {"field": "series", "type": "nominal"},
"strokeDash": {"field": "series", "type": "nominal"}
}
}
],
"resolve": {"scale": {"y": "independent"}}
},
{
"title": {"text": "Covid-19 Government Response Stringency Index", "subtitle": "(Index: 100=most restrictive)"},
"width": 493, "height": 234,
"data": {"name": "strin"},
"mark": {"type": "line", "interpolate": "step-after"},
"encoding": {
"x": {"field": "date", "type": "temporal",
 "scale": {"type": "utc", "domain": [1580515200000, 1633305600000]},
 "axis": {"values": [1580515200000,1585699200000,1590969600000,1596240000000,1601510400000,1606780800000,1612137600000,1617235200000,1622505600000,1627776000000,1633046400000],
  "labelExpr": "utcFormat(datum.value, '%-m/%-d/%Y')", "labelAngle": 270, "tickSize": -4, "labelPadding": 11,
  "title": "Sources: Oxford COVID-19 Government Response Tracker and Our World in Data.",
  "titleX": -43, "titleY": 110, "titleAlign": "left", "titleBaseline": "alphabetic"}},
"y": {"field": "value", "type": "quantitative", "scale": {"domain": [0, 100], "nice": false},
 "axis": {"values": [0,10,20,30,40,50,60,70,80,90,100], "title": null, "ticks": false, "labelPadding": 5}},
"color": {"field": "country", "type": "nominal",
 "scale": {"domain": ["Germany","Spain","France","United Kingdom","Italy","Netherlands"], "range": ["#4f8bc1","#548235","#000000","#ffc000","#8f8f8f","#c00000"]},
 "legend": {"title": null, "orient": "none", "legendX": 213, "legendY": 158.5, "direction": "horizontal", "columns": 2, "columnPadding": 48, "rowPadding": 6, "symbolType": "stroke", "symbolSize": 300, "labelOffset": 2}},
"strokeWidth": {"field": "country", "type": "nominal",
 "scale": {"type": "ordinal", "domain": ["Germany","Spain","France","United Kingdom","Italy","Netherlands"], "range": [1.6,1.6,1.6,1.6,1.6,2.6]},
 "legend": {"title": null, "orient": "none", "legendX": 213, "legendY": 158.5, "direction": "horizontal", "columns": 2, "columnPadding": 48, "rowPadding": 6, "symbolType": "stroke", "symbolSize": 300, "labelOffset": 2}}
}
}
]
},
{
"resolve": {"scale": {"color": "independent", "strokeWidth": "independent", "opacity": "independent"}, "legend": {"color": "independent", "strokeWidth": "independent"}},
"spacing": 13,
"center": true,
"vconcat": [
{
"title": {"text": "Covid-19 Weekly New Hospital Admissions", "subtitle": "(Per million people)"},
"width": 498, "height": 226,
"data": {"name": "hosp"},
"mark": {"type": "line"},
"encoding": {
"x": {"field": "date", "type": "temporal",
 "scale": {"type": "utc", "domain": [1582848000000, 1633737600000]},
 "axis": {"values": [1583020800000,1585699200000,1588291200000,1590969600000,1593561600000,1596240000000,1598918400000,1601510400000,1604188800000,1606780800000,1609459200000,1612137600000,1614556800000,1617235200000,1619827200000,1622505600000,1625097600000,1627776000000,1630454400000,1633046400000],
  "labelExpr": "utcFormat(datum.value, '%-m/%-d/%Y')", "labelAngle": 270, "tickSize": -4, "labelPadding": 11,
  "title": "Sources: Our World in Data and Haver.",
  "titleX": -27, "titleY": 119, "titleAlign": "left", "titleBaseline": "alphabetic"}},
"y": {"field": "value", "type": "quantitative", "scale": {"domain": [0, 700], "nice": false},
 "axis": {"values": [0,100,200,300,400,500,600,700], "title": null, "ticks": false, "labelPadding": 5}},
"color": {"field": "country", "type": "nominal",
 "scale": {"domain": ["Germany","Spain","France","United Kingdom","Italy","Netherlands"], "range": ["#4f8bc1","#5b9341","#000000","#ffc000","#b8b8b8","#c00000"]},
 "legend": {"title": null, "orient": "none", "legendX": 92, "legendY": 7.5, "rowPadding": 1.6, "symbolType": "stroke", "symbolSize": 400, "labelOffset": 1}},
"strokeWidth": {"field": "country", "type": "nominal",
 "scale": {"type": "ordinal", "domain": ["Germany","Spain","France","United Kingdom","Italy","Netherlands"], "range": [1.8,1.8,1.8,1.8,1.8,2.6]},
 "legend": {"title": null, "orient": "none", "legendX": 92, "legendY": 7.5, "rowPadding": 1.6, "symbolType": "stroke", "symbolSize": 400, "labelOffset": 1}}
}
},
{
"title": {"text": "Share of Population Vaccinated, as of October 3, 2021", "subtitle": "(Percent)"},
"width": 506, "height": 264,
"data": {"name": "vacc"},
"encoding": {
"x": {"field": "country", "type": "nominal", "sort": ["Spain","Italy","Netherlands","France","United Kingdom","Germany"],
 "scale": {"paddingInner": 0.17, "paddingOuter": 0.1},
 "axis": {"labelAngle": 0, "ticks": false, "labelFontSize": 14, "labelPadding": 16, "labelLineHeight": 21,
  "labelExpr": "datum.label == 'United Kingdom' ? ['United', 'Kingdom'] : datum.label",
  "title": "Sources: Our World in Data, Haver, and IMF staff calculations.",
  "titleX": -21, "titleY": 80, "titleAlign": "left", "titleBaseline": "alphabetic"}}
},
"layer": [
{
"mark": {"type": "bar", "stroke": "#000000", "strokeWidth": 1},
"encoding": {
"y": {"field": "value", "type": "quantitative", "stack": "zero", "scale": {"domain": [0, 90], "nice": false},
 "axis": {"values": [0,10,20,30,40,50,60,70,80,90], "title": null, "ticks": false, "labelPadding": 5}},
"color": {"field": "type", "type": "nominal", "scale": {"domain": ["Fully vaccinated", "Partially vaccinated"], "range": ["#4a86ab", "#ffffff"]},
 "legend": {"title": null, "orient": "none", "legendX": 185, "legendY": 9.5, "direction": "horizontal", "symbolType": "square", "symbolSize": 110, "symbolStrokeColor": "#000000", "symbolStrokeWidth": 1, "columnPadding": 26, "labelOffset": 4,
  "encode": {"symbols": {"update": {"fill": [{"test": "datum.value === 'Partially vaccinated'", "value": {"gradient": "linear", "x1": 0, "y1": 1, "x2": 1, "y2": 0, "stops": [
{"offset":0,"color":"#ffffff"},{"offset":0.15,"color":"#ffffff"},{"offset":0.15,"color":"#000000"},{"offset":0.25,"color":"#000000"},
{"offset":0.25,"color":"#ffffff"},{"offset":0.4,"color":"#ffffff"},{"offset":0.4,"color":"#000000"},{"offset":0.5,"color":"#000000"},
{"offset":0.5,"color":"#ffffff"},{"offset":0.65,"color":"#ffffff"},{"offset":0.65,"color":"#000000"},{"offset":0.75,"color":"#000000"},
{"offset":0.75,"color":"#ffffff"},{"offset":0.9,"color":"#ffffff"},{"offset":0.9,"color":"#000000"},{"offset":1,"color":"#000000"}
]}}, {"value": "#4a86ab"}], "stroke": {"value": "#000000"}}}}}},
"order": {"field": "type", "sort": "ascending"}
}
},
{
"mark": {"type": "bar", "stroke": "#000000", "strokeWidth": 1,
 "fill": {"gradient": "linear", "x1": 0, "y1": 0.25, "x2": 1, "y2": 0, "stops": [
{"offset":0,"color":"#ffffff"},{"offset":0.0514,"color":"#ffffff"},{"offset":0.0514,"color":"#000000"},{"offset":0.0714,"color":"#000000"},
{"offset":0.0714,"color":"#ffffff"},{"offset":0.1229,"color":"#ffffff"},{"offset":0.1229,"color":"#000000"},{"offset":0.1429,"color":"#000000"},
{"offset":0.1429,"color":"#ffffff"},{"offset":0.1943,"color":"#ffffff"},{"offset":0.1943,"color":"#000000"},{"offset":0.2143,"color":"#000000"},
{"offset":0.2143,"color":"#ffffff"},{"offset":0.2657,"color":"#ffffff"},{"offset":0.2657,"color":"#000000"},{"offset":0.2857,"color":"#000000"},
{"offset":0.2857,"color":"#ffffff"},{"offset":0.3371,"color":"#ffffff"},{"offset":0.3371,"color":"#000000"},{"offset":0.3571,"color":"#000000"},
{"offset":0.3571,"color":"#ffffff"},{"offset":0.4086,"color":"#ffffff"},{"offset":0.4086,"color":"#000000"},{"offset":0.4286,"color":"#000000"},
{"offset":0.4286,"color":"#ffffff"},{"offset":0.48,"color":"#ffffff"},{"offset":0.48,"color":"#000000"},{"offset":0.5,"color":"#000000"},
{"offset":0.5,"color":"#ffffff"},{"offset":0.5514,"color":"#ffffff"},{"offset":0.5514,"color":"#000000"},{"offset":0.5714,"color":"#000000"},
{"offset":0.5714,"color":"#ffffff"},{"offset":0.6229,"color":"#ffffff"},{"offset":0.6229,"color":"#000000"},{"offset":0.6429,"color":"#000000"},
{"offset":0.6429,"color":"#ffffff"},{"offset":0.6943,"color":"#ffffff"},{"offset":0.6943,"color":"#000000"},{"offset":0.7143,"color":"#000000"},
{"offset":0.7143,"color":"#ffffff"},{"offset":0.7657,"color":"#ffffff"},{"offset":0.7657,"color":"#000000"},{"offset":0.7857,"color":"#000000"},
{"offset":0.7857,"color":"#ffffff"},{"offset":0.8371,"color":"#ffffff"},{"offset":0.8371,"color":"#000000"},{"offset":0.8571,"color":"#000000"},
{"offset":0.8571,"color":"#ffffff"},{"offset":0.9086,"color":"#ffffff"},{"offset":0.9086,"color":"#000000"},{"offset":0.9286,"color":"#000000"},
{"offset":0.9286,"color":"#ffffff"},{"offset":0.98,"color":"#ffffff"},{"offset":0.98,"color":"#000000"},{"offset":1,"color":"#000000"}
]}},
"encoding": {
"y": {"field": "value", "type": "quantitative", "stack": "zero", "scale": {"domain": [0, 90], "nice": false}, "axis": null},
"detail": {"field": "type", "type": "nominal"},
"order": {"field": "type", "sort": "ascending"},
"opacity": {"condition": {"test": "datum.type === 'Partially vaccinated'", "value": 1}, "value": 0}
}
},
{
"mark": {"type": "text", "fontSize": 14.5, "color": "#111111", "font": "Open Sans", "baseline": "middle", "dy": 8},
"encoding": {
"y": {"field": "value", "type": "quantitative", "stack": "zero", "scale": {"domain": [0, 90], "nice": false}, "axis": null},
"detail": {"field": "type", "type": "nominal"},
"order": {"field": "type", "sort": "ascending"},
"opacity": {"condition": {"test": "datum.type === 'Partially vaccinated'", "value": 1}, "value": 0},
"text": {"field": "value", "type": "quantitative", "format": ".1f"}
}
},
{
"transform": [{"filter": "datum.type === 'Fully vaccinated'"}],
"mark": {"type": "text", "fontSize": 14.5, "color": "#111111", "font": "Open Sans", "baseline": "middle"},
"encoding": {
"y": {"field": "value", "type": "quantitative", "scale": {"domain": [0, 180], "nice": false}, "axis": null},
"text": {"field": "value", "type": "quantitative", "format": ".1f"}
}
}
],
"resolve": {"scale": {"y": "independent"}}
}
]
}
]
}
